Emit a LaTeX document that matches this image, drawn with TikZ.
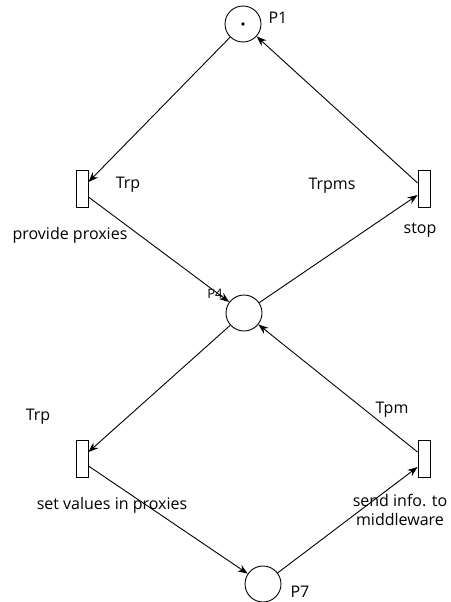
\documentclass[tikz,border=0pt]{standalone}
\usepackage{fontspec}
\setmainfont{Open Sans}
\usetikzlibrary{arrows.meta}
\begin{document}
\begin{tikzpicture}[x=1pt,y=-1pt,
  place/.style={draw,circle,minimum size=36pt,inner sep=0pt,line width=0.9pt},
  trans/.style={draw,rectangle,minimum width=12pt,minimum height=37pt,inner sep=0pt,line width=0.9pt},
  arc/.style={draw,line width=0.9pt,-{Stealth[length=10pt,width=7.5pt]}},
  lbl/.style={font=\fontsize{16}{19}\selectfont,inner sep=0pt,align=center},
  smalllbl/.style={font=\fontsize{13}{15}\selectfont,inner sep=0pt}]
\useasboundingbox (0,0) rectangle (450,602);

% places
\node[place] (p1) at (243,24) {};
\fill (p1.center) circle (1.8pt);
\node[place] (p4) at (244,313) {};
\node[place] (p7) at (263,584) {};

% transitions
\node[trans] (t1) at (82,188.5) {};
\node[trans] (t2) at (424,189) {};
\node[trans] (t3) at (82,459) {};
\node[trans] (t4) at (424,459) {};

% connection points on the transition sides
\coordinate (t1in)  at ([yshift=6.5pt]t1.east);
\coordinate (t1out) at ([yshift=-8.5pt]t1.east);
\coordinate (t2in)  at ([yshift=-6pt]t2.west);
\coordinate (t2out) at ([yshift=6pt]t2.west);
\coordinate (t3in)  at ([yshift=7pt]t3.east);
\coordinate (t3out) at ([yshift=-7pt]t3.east);
\coordinate (t4in)  at ([yshift=-8pt]t4.west);
\coordinate (t4out) at ([yshift=7pt]t4.west);

% arcs
\draw[arc] (p1) -- (t1in);
\draw[arc] (t1out) -- (p4);
\draw[arc] (p4) -- (t2in);
\draw[arc] (t2out) -- (p1);
\draw[arc] (p4) -- (t3in);
\draw[arc] (t3out) -- (p7);
\draw[arc] (p7) -- (t4in);
\draw[arc] (t4out) -- (p4);

% labels
\node[lbl] (lp1) at (278,18) {P1};
\node[smalllbl] (lp4) at (215,294) {P4};
\node[lbl] (lp7) at (300,592) {P7};
\node[lbl] (lt1) at (128,185) {Trp};
\node[lbl] (lt1b) at (70,235) {provide proxies};
\node[lbl] (lt2) at (332,186) {Trpms};
\node[lbl] (lt2b) at (420,230) {stop};
\node[lbl] (lt3) at (38,417) {Trp};
\node[lbl] (lt3b) at (112,505) {set values in proxies};
\node[lbl] (lt4) at (392,410) {Tpm};
\node[lbl] (lt4b) at (400,510) {send info. to\\middleware};
\end{tikzpicture}
\end{document}
